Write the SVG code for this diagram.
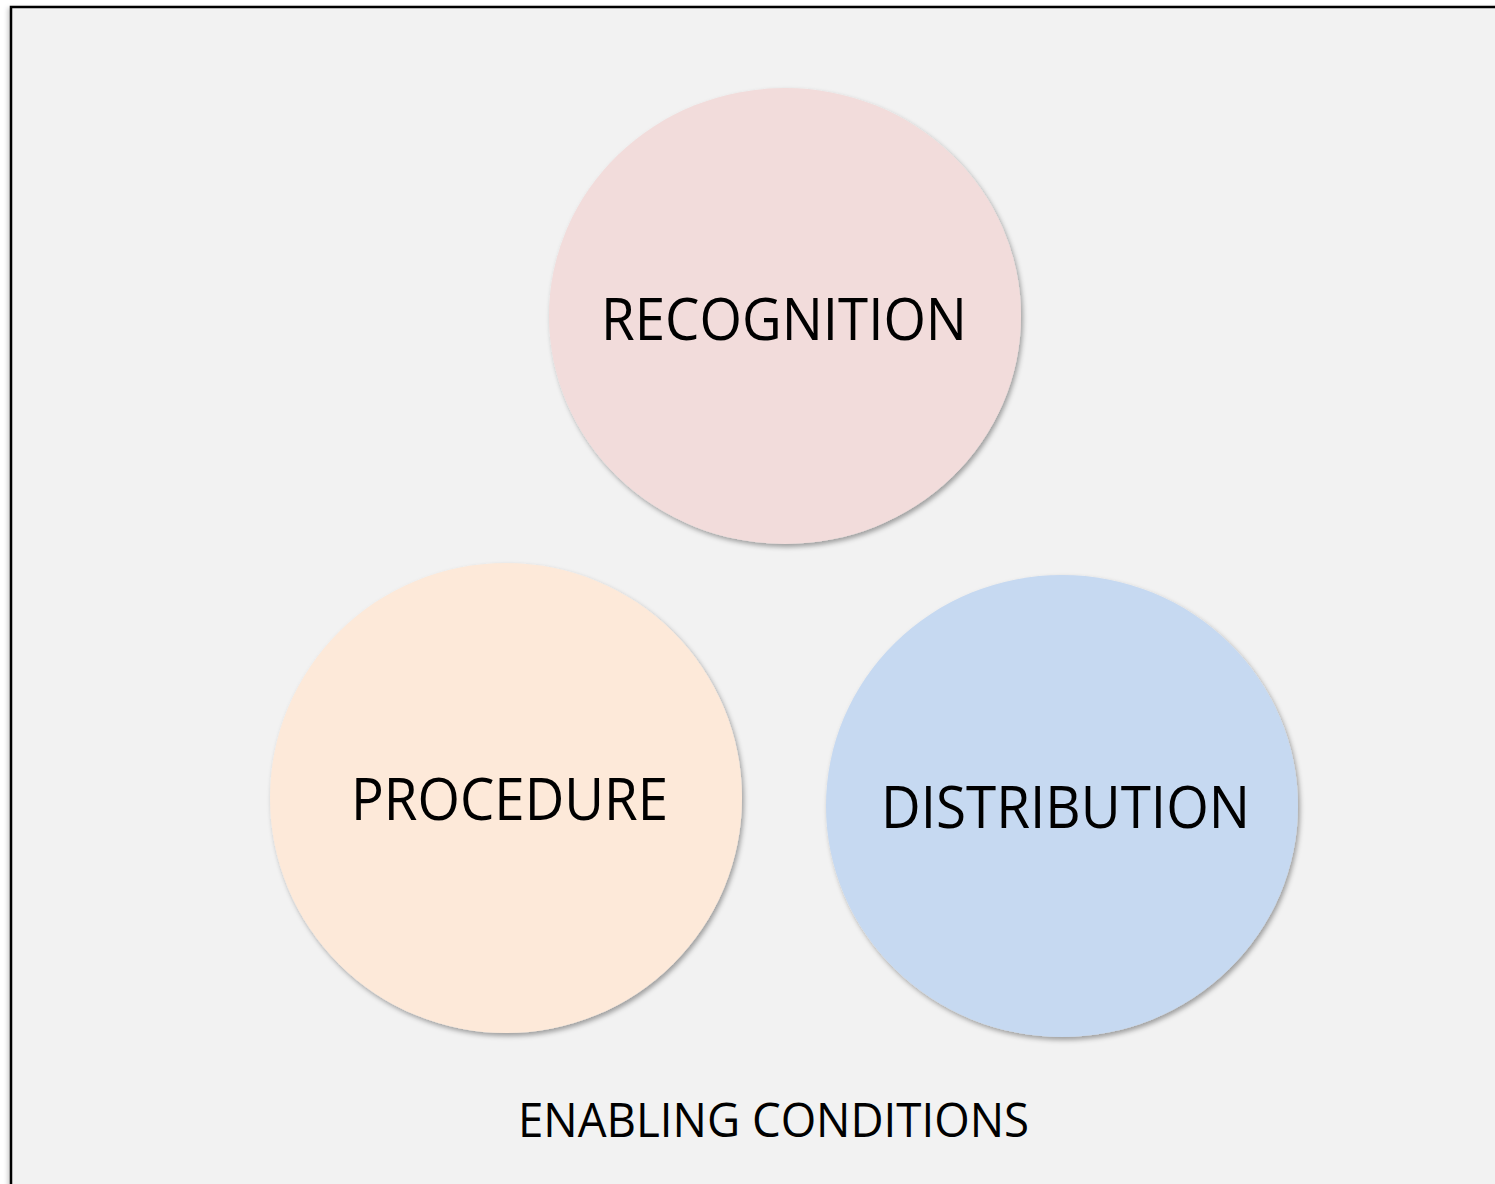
<svg xmlns="http://www.w3.org/2000/svg" width="1495" height="1184" viewBox="0 0 1495 1184">
<defs>
<style>
.lbl{font-family:"Open Sans","Liberation Sans",sans-serif;fill:#000;text-anchor:start}
.big{font-size:58px}
.cap{font-size:48px}
</style>
<filter id="sh" x="-10%" y="-10%" width="120%" height="120%">
<feDropShadow dx="2" dy="3" stdDeviation="2.5" flood-color="#000" flood-opacity="0.35"/>
</filter>
<filter id="fsh" x="-5%" y="-5%" width="110%" height="110%">
<feDropShadow dx="-2" dy="2" stdDeviation="2" flood-color="#000" flood-opacity="0.2"/>
</filter>
</defs>
<rect width="1495" height="1184" fill="#ffffff"/>
<rect x="11" y="7" width="1500" height="1200" fill="#f2f2f2" stroke="#000" stroke-width="2.5" filter="url(#fsh)"/>
<g id="connectors"/>
<g id="recognition">
<ellipse cx="785" cy="316" rx="236" ry="228" fill="#f2dcdb" filter="url(#sh)"/>
<text class="lbl big" x="601" y="340" textLength="366" lengthAdjust="spacingAndGlyphs">RECOGNITION</text>
</g>
<g id="procedure">
<ellipse cx="506" cy="798" rx="236" ry="235" fill="#fde9d9" filter="url(#sh)"/>
<text class="lbl big" x="351" y="820" textLength="317" lengthAdjust="spacingAndGlyphs">PROCEDURE</text>
</g>
<g id="distribution">
<ellipse cx="1062" cy="806" rx="236" ry="231" fill="#c6d9f1" filter="url(#sh)"/>
<text class="lbl big" x="881" y="828" textLength="369" lengthAdjust="spacingAndGlyphs">DISTRIBUTION</text>
</g>
<g id="caption">
<text class="lbl cap" x="518" y="1137" textLength="511" lengthAdjust="spacingAndGlyphs">ENABLING CONDITIONS</text>
</g>
</svg>
